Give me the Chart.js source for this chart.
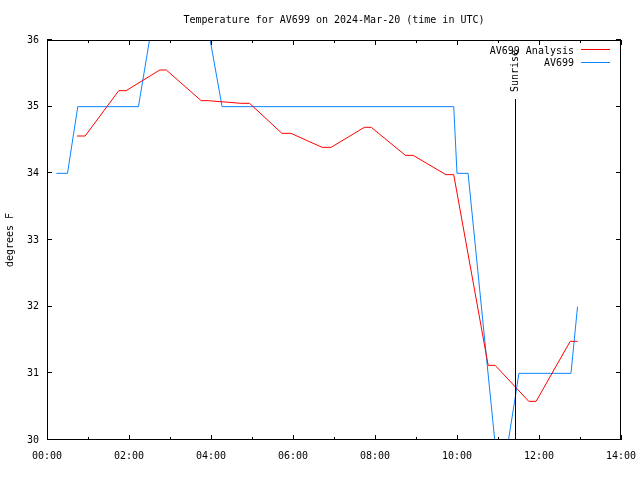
<!DOCTYPE html>
<html>
<head>
<meta charset="utf-8">
<script src="https://cdn.jsdelivr.net/npm/chart.js@4.4.1/dist/chart.umd.min.js"></script>
<style>
    html, body { margin: 0; padding: 0; background: #ffffff; }
</style>
</head>
<body>
<canvas id="temperatureChart" width="640" height="480"></canvas>
<script>
// times are hours after 00:00 UTC
var analysisHours = [0.73, 0.93, 1.75, 1.93, 2.75, 2.91, 3.76, 3.93, 4.74, 4.94, 5.73, 5.95, 6.71, 6.93, 7.74, 7.91, 8.74, 8.93, 9.73, 9.92, 10.76, 10.93, 11.75, 11.93, 12.76, 12.94];
var analysisTemps = [34.56, 34.56, 35.24, 35.24, 35.55, 35.55, 35.09, 35.09, 35.05, 35.05, 34.60, 34.60, 34.39, 34.39, 34.69, 34.69, 34.27, 34.27, 33.98, 33.98, 31.12, 31.12, 30.58, 30.58, 31.48, 31.48];

var stationHours = [0.23, 0.50, 0.75, 2.23, 2.50, 2.75, 3.00, 3.25, 3.50, 3.75, 3.98, 4.27, 9.92, 10.00, 10.27, 11.05, 11.41, 11.51, 12.78, 12.94];
var stationTemps = [34, 34, 35, 35, 36.0, 37, 37, 38, 37, 37, 36.0, 35, 35, 34, 34, 29.2, 30.6, 31, 31, 32];

var hourTicks = [0, 2, 4, 6, 8, 10, 12, 14];
var hourLabels = ['00:00', '02:00', '04:00', '06:00', '08:00', '10:00', '12:00', '14:00'];
var minorHourTicks = [1, 3, 5, 7, 9, 11, 13];
var tempTicks = [30, 31, 32, 33, 34, 35, 36];

var sunriseHour = 11.41;
var chartTitle = 'Temperature for AV699 on 2024-Mar-20 (time in UTC)';
var seriesNames = ['AV699 Analysis', 'AV699'];
var seriesColors = ['#ff0000', '#0a84ff'];

var monoFont = '"DejaVu Sans Mono", "Liberation Mono", monospace';

function toPoints(xs, ys) {
    var pts = [];
    for (var i = 0; i < xs.length; i++) {
        pts.push({ x: xs[i], y: ys[i] });
    }
    return pts;
}

// gnuplot style frame, inward ticks, legend, title and sunrise marker
const gnuplotLook = {
    id: 'gnuplotLook',
    afterDraw: function(chart) {
        var ctx = chart.ctx;
        var area = chart.chartArea;
        var xScale = chart.scales.x;
        var yScale = chart.scales.y;

        ctx.save();
        ctx.strokeStyle = '#000000';
        ctx.lineWidth = 1;

        // frame
        ctx.strokeRect(Math.round(area.left) + 0.5, Math.round(area.top) + 0.5,
            Math.round(area.right - area.left) - 1, Math.round(area.bottom - area.top) - 1);

        ctx.beginPath();
        hourTicks.forEach(function(h) {
            var px = Math.round(xScale.getPixelForValue(h)) + 0.5;
            ctx.moveTo(px, area.bottom); ctx.lineTo(px, area.bottom - 5);
            ctx.moveTo(px, area.top); ctx.lineTo(px, area.top + 5);
        });
        minorHourTicks.forEach(function(h) {
            var px = Math.round(xScale.getPixelForValue(h)) + 0.5;
            ctx.moveTo(px, area.bottom); ctx.lineTo(px, area.bottom - 3);
            ctx.moveTo(px, area.top); ctx.lineTo(px, area.top + 3);
        });
        tempTicks.forEach(function(t) {
            var py = Math.round(yScale.getPixelForValue(t)) - 0.5;
            ctx.moveTo(area.left, py); ctx.lineTo(area.left + 5, py);
            ctx.moveTo(area.right, py); ctx.lineTo(area.right - 5, py);
        });
        ctx.stroke();

        // sunrise marker
        var sx = Math.round(xScale.getPixelForValue(sunriseHour)) + 0.5;
        ctx.beginPath();
        ctx.moveTo(sx, area.bottom);
        ctx.lineTo(sx, 99);
        ctx.stroke();

        ctx.fillStyle = '#000000';
        ctx.font = '10px ' + monoFont;

        ctx.save();
        ctx.translate(sx, 92);
        ctx.rotate(-Math.PI / 2);
        ctx.textAlign = 'left';
        ctx.textBaseline = 'middle';
        ctx.fillText('Sunrise', 0, 0);
        ctx.restore();

        // title
        ctx.textAlign = 'center';
        ctx.textBaseline = 'middle';
        ctx.fillText(chartTitle, (area.left + area.right) / 2, 20);

        // legend: text right aligned, sample line to the right
        ctx.textAlign = 'right';
        for (var i = 0; i < seriesNames.length; i++) {
            var ly = 50 + i * 12;
            ctx.fillStyle = '#000000';
            ctx.fillText(seriesNames[i], 574, ly + 1);
            ctx.fillStyle = seriesColors[i];
            ctx.fillRect(581, 49 + i * 13, 29, 1);
        }

        ctx.restore();
    }
};

const config = {
    type: 'line',
    data: {
        datasets: [{
            label: seriesNames[0],
            data: toPoints(analysisHours, analysisTemps),
            borderColor: seriesColors[0],
            borderWidth: 1,
            pointRadius: 0,
            tension: 0,
            fill: false
        }, {
            label: seriesNames[1],
            data: toPoints(stationHours, stationTemps),
            borderColor: seriesColors[1],
            borderWidth: 1,
            pointRadius: 0,
            tension: 0,
            fill: false
        }]
    },
    options: {
        responsive: false,
        animation: false,
        devicePixelRatio: 1,
        layout: {
            padding: { top: 40, right: 19, left: 0, bottom: 0 }
        },
        plugins: {
            legend: { display: false },
            title: { display: false },
            tooltip: { enabled: false }
        },
        scales: {
            x: {
                type: 'linear',
                min: 0,
                max: 14,
                afterBuildTicks: function(scale) {
                    scale.ticks = hourTicks.map(function(h) { return { value: h }; });
                },
                afterFit: function(scale) {
                    scale.height = 40;
                    scale.paddingLeft = 0;
                    scale.paddingRight = 0;
                },
                grid: { display: false, drawTicks: false },
                border: { display: false },
                ticks: {
                    autoSkip: false,
                    maxRotation: 0,
                    padding: 10,
                    color: '#000000',
                    font: { family: monoFont, size: 10 },
                    callback: function(value, index) { return hourLabels[index]; }
                }
            },
            y: {
                min: 30,
                max: 36,
                afterBuildTicks: function(scale) {
                    scale.ticks = tempTicks.map(function(t) { return { value: t }; });
                },
                afterFit: function(scale) {
                    scale.width = 47;
                    scale.paddingTop = 0;
                    scale.paddingBottom = 0;
                },
                grid: { display: false, drawTicks: false },
                border: { display: false },
                title: {
                    display: true,
                    text: 'degrees F',
                    color: '#000000',
                    font: { family: monoFont, size: 10 }
                },
                ticks: {
                    padding: 8,
                    color: '#000000',
                    font: { family: monoFont, size: 10 }
                }
            }
        }
    },
    plugins: [gnuplotLook]
};

const ctx = document.getElementById('temperatureChart').getContext('2d');
new Chart(ctx, config);
</script>
</body>
</html>
